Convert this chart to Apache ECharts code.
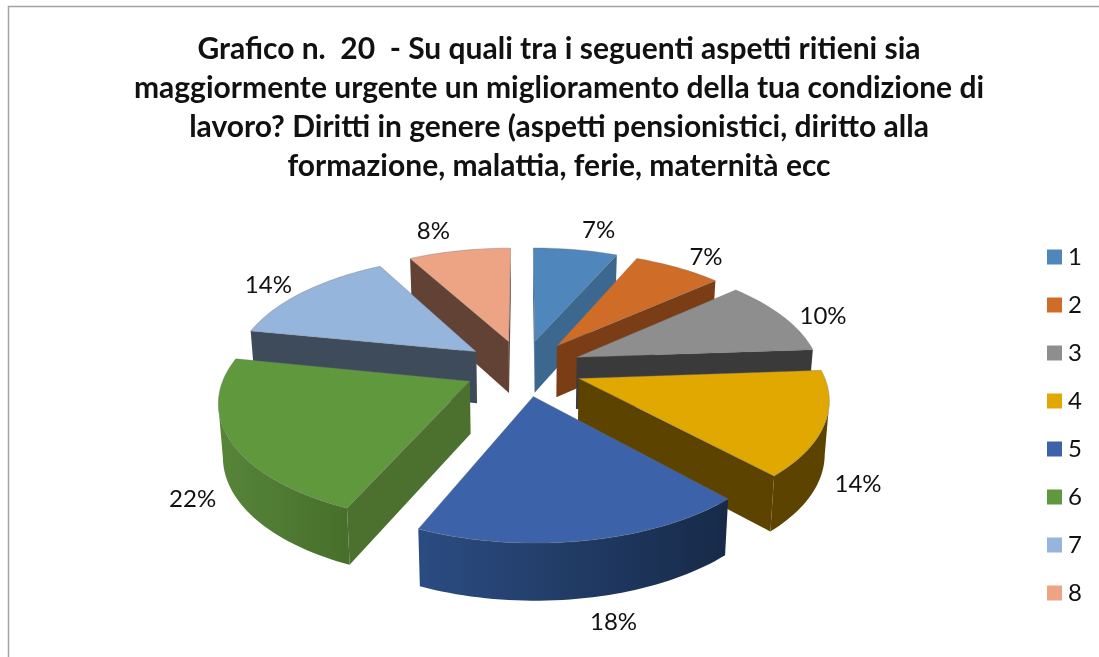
<!DOCTYPE html>
<html>
<head>
<meta charset="utf-8">
<title>Grafico n. 20</title>
<script src="https://cdn.jsdelivr.net/npm/echarts@6/dist/echarts.min.js"></script>
<style>
html, body { margin: 0; padding: 0; background: #fff; }
#chart { width: 1099px; height: 657px; }
</style>
</head>
<body>
<div id="chart"></div>
<script>
const titleLines = [
    'Grafico n.  20  - Su quali tra i seguenti aspetti ritieni sia',
    'maggiormente urgente un miglioramento della tua condizione di',
    'lavoro? Diritti in genere (aspetti pensionistici, diritto alla',
    'formazione, malattia, ferie, maternità ecc'
]
const categories = ['1', '2', '3', '4', '5', '6', '7', '8']
// the labels show them rounded
const values = [6.6, 6.9, 10.4, 14.2, 18.4, 21.6, 13.9, 8.0]

const topColors = ['#4f86bb', '#ce6c28', '#8e8e8e', '#e0a800', '#3c63aa', '#60983d', '#95b5dc', '#eca485']
const cutColors = ['#3c678f', '#7a3d15', '#3a3a3a', '#5c4400', '#1d3156', '#4c702d', '#3e4b5a', '#624234']
const wallColors = [
    ['#3c678f', '#3c678f'],
    ['#7a3d15', '#7a3d15'],
    ['#3a3a3a', '#3a3a3a'],
    ['#5c4400', '#5c4400'],
    ['#2b4c82', '#172a48'],
    ['#568539', '#476f2b'],
    ['#3e4b5a', '#3e4b5a'],
    ['#624234', '#624234']
]
// distance of each % label from the rim of its slice
const labelOffsets = [[23, -19], [28, -10], [40, 0], [38, 6], [29, 24], [-42, 4], [-35, -7], [-26, -19]]

// perspective of the pie
const cx = 523, cy = 368, radiusX = 243, radiusY = 115, tilt = 0.15, explode = 0.243, depth = 52

const total = values.reduce((a, b) => a + b, 0)
const rad = d => d * Math.PI / 180

let startAngles = []
let sum = 0
values.forEach(v => {
    startAngles.push(sum / total * 360)
    sum += v
})

function project(u, v, bottom) {
    let w = 1 + tilt * v
    let x = cx + radiusX * u / w
    let y = cy - radiusY * v / w
    if (bottom) {
        x = cx + (x - cx) * 0.985
        y += depth / Math.sqrt(w)
    }
    return [x, y]
}

// point of a slice: r is 0 at the apex, 1 on the rim
function slicePoint(angle, r, mid, bottom) {
    let u = explode * Math.sin(rad(mid)) + r * Math.sin(rad(angle))
    let v = explode * Math.cos(rad(mid)) + r * Math.cos(rad(angle))
    return project(u, v, bottom)
}

function quadArea(pts) {
    let a = 0
    pts.forEach((p, i) => {
        let q = pts[(i + 1) % pts.length]
        a += p[0] * q[1] - q[0] * p[1]
    })
    return a
}

function renderSlice(idx, api) {
    let value = api.value(0)
    let a0 = startAngles[idx]
    let a1 = a0 + value / total * 360
    let mid = (a0 + a1) / 2
    let children = []

    let arc = []
    for (let a = a0; a < a1; a += 1.5) arc.push(a)
    arc.push(a1)

    // flat cut faces, only the ones turned to the viewer
    ;[[a0, -1], [a1, 1]].forEach(([a, sign]) => {
        let face = [
            slicePoint(a, 0, mid, false),
            slicePoint(a, 1, mid, false),
            slicePoint(a, 1, mid, true),
            slicePoint(a, 0, mid, true)
        ]
        if (quadArea(face) * sign > 0) {
            children.push({ type: 'polygon', shape: { points: face }, style: { fill: cutColors[idx] } })
        }
    })

    // outer wall, visible where the rim runs right to left
    let wallTop = []
    let wallBottom = []
    arc.forEach((a, i) => {
        if (i == arc.length - 1) return
        let p = slicePoint(a, 1, mid, false)
        let q = slicePoint(arc[i + 1], 1, mid, false)
        if (q[0] < p[0]) {
            if (!wallTop.length) {
                wallTop.push(p)
                wallBottom.push(slicePoint(a, 1, mid, true))
            }
            wallTop.push(q)
            wallBottom.push(slicePoint(arc[i + 1], 1, mid, true))
        }
    })
    if (wallTop.length) {
        children.push({
            type: 'polygon',
            shape: { points: wallTop.concat(wallBottom.reverse()) },
            style: {
                fill: new echarts.graphic.LinearGradient(0, 0, 1, 0, [
                    { offset: 0, color: wallColors[idx][0] },
                    { offset: 1, color: wallColors[idx][1] }
                ])
            }
        })
    }

    // top face
    let top = [slicePoint(a0, 0, mid, false)]
    arc.forEach(a => top.push(slicePoint(a, 1, mid, false)))
    children.push({
        type: 'polygon',
        shape: { points: top },
        style: { fill: topColors[idx], stroke: 'rgba(110,110,110,0.45)', lineWidth: 0.8, lineJoin: 'round' }
    })

    // % label, anchored on the rim (lower rim for the front slices)
    let anchor = slicePoint(mid, 1, mid, Math.cos(rad(mid)) < 0)
    children.push({
        type: 'text',
        x: anchor[0] + labelOffsets[idx][0],
        y: anchor[1] + labelOffsets[idx][1],
        style: {
            text: Math.round(value) + '%',
            fill: '#111',
            fontFamily: 'Lato',
            fontSize: 24,
            align: 'center',
            verticalAlign: 'middle'
        }
    })
    return { type: 'group', children: children }
}

// back slices first, front slices on top of them
let drawOrder = categories.map((c, i) => i).sort((a, b) => {
    let midA = startAngles[a] + values[a] / total * 180
    let midB = startAngles[b] + values[b] / total * 180
    return Math.cos(rad(midB)) - Math.cos(rad(midA))
})

let option = {
    animation: false,
    backgroundColor: '#fff',
    title: {
        text: titleLines.join('\n'),
        left: 554,
        top: 25,
        textAlign: 'center',
        textStyle: {
            fontFamily: 'Lato',
            fontWeight: 'bold',
            fontSize: 30,
            lineHeight: 39,
            color: '#111'
        }
    },
    legend: {
        orient: 'vertical',
        left: 1042,
        top: 239,
        itemWidth: 15,
        itemHeight: 15,
        itemGap: 22,
        icon: 'rect',
        textStyle: { fontFamily: 'Lato', fontSize: 24, color: '#111', padding: [0, 0, 0, 1], lineHeight: 26 },
        data: categories.map((c, i) => ({ name: c, itemStyle: { color: topColors[i] } }))
    },
    graphic: [{
        type: 'polyline',
        shape: { points: [[8.5, 657], [8.5, 6.5], [1099, 6.5]] },
        style: { stroke: '#a3a3a3', lineWidth: 1.5, fill: null }
    }],
    series: categories.map((c, i) => ({
        type: 'custom',
        name: c,
        coordinateSystem: 'none',
        z: 2 + drawOrder.indexOf(i),
        itemStyle: { color: topColors[i] },
        data: [[values[i]]],
        renderItem: (params, api) => renderSlice(i, api)
    }))
}

let myChart = echarts.init(document.getElementById('chart'), null, { renderer: 'canvas' })
myChart.setOption(option)
</script>
</body>
</html>
